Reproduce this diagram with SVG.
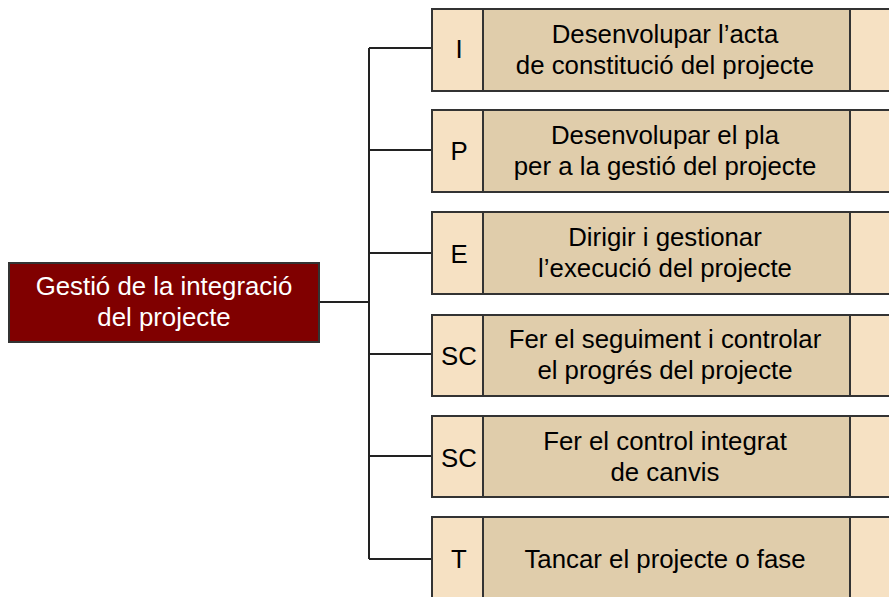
<svg xmlns="http://www.w3.org/2000/svg" width="889" height="597" viewBox="0 0 889 597">
<style>
.l{fill:#f6e1c3;stroke:#333;stroke-width:2}
.m{fill:#e0cdab;stroke:#333;stroke-width:2}
.t{font-family:"Liberation Sans",Arial,sans-serif;font-size:25.8px;fill:#000;text-anchor:middle}
.w{font-family:"Liberation Sans",Arial,sans-serif;font-size:25.8px;fill:#fff;text-anchor:middle}
.c{fill:none;stroke:#222;stroke-width:2}
</style>
<rect width="889" height="597" fill="#fff"/>
<g id="connectors">
<path class="c" d="M319,302H369M369,48V559M369,48H432M369,150H432M369,253H432M369,354H432M369,456H432M369,559H432"/>
</g>
<g id="root">
<rect x="9" y="263" width="310" height="79" fill="#800000" stroke="#333" stroke-width="2"/>
<text class="w" x="164" y="295">Gestió de la integració</text>
<text class="w" x="164" y="326">del projecte</text>
</g>
<g id="n1">
<rect class="l" x="432" y="9" width="470" height="82"/>
<rect class="m" x="483" y="9" width="367" height="82"/>
<text class="t" x="459" y="58">I</text>
<text class="t" x="665" y="43">Desenvolupar l’acta</text>
<text class="t" x="665" y="74">de constitució del projecte</text>
</g>
<g id="n2">
<rect class="l" x="432" y="110" width="470" height="82"/>
<rect class="m" x="483" y="110" width="367" height="82"/>
<text class="t" x="459" y="160">P</text>
<text class="t" x="665" y="144">Desenvolupar el pla</text>
<text class="t" x="665" y="175">per a la gestió del projecte</text>
</g>
<g id="n3">
<rect class="l" x="432" y="212" width="470" height="82"/>
<rect class="m" x="483" y="212" width="367" height="82"/>
<text class="t" x="459" y="263">E</text>
<text class="t" x="665" y="246">Dirigir i gestionar</text>
<text class="t" x="665" y="277">l’execució del projecte</text>
</g>
<g id="n4">
<rect class="l" x="432" y="315" width="470" height="81"/>
<rect class="m" x="483" y="315" width="367" height="81"/>
<text class="t" x="459" y="365">SC</text>
<text class="t" x="665" y="348">Fer el seguiment i controlar</text>
<text class="t" x="665" y="379">el progrés del projecte</text>
</g>
<g id="n5">
<rect class="l" x="432" y="416" width="470" height="81"/>
<rect class="m" x="483" y="416" width="367" height="81"/>
<text class="t" x="459" y="467">SC</text>
<text class="t" x="665" y="450">Fer el control integrat</text>
<text class="t" x="665" y="481">de canvis</text>
</g>
<g id="n6">
<rect class="l" x="432" y="517" width="470" height="90"/>
<rect class="m" x="483" y="517" width="367" height="90"/>
<text class="t" x="459" y="568">T</text>
<text class="t" x="665" y="568">Tancar el projecte o fase</text>
</g>
</svg>
